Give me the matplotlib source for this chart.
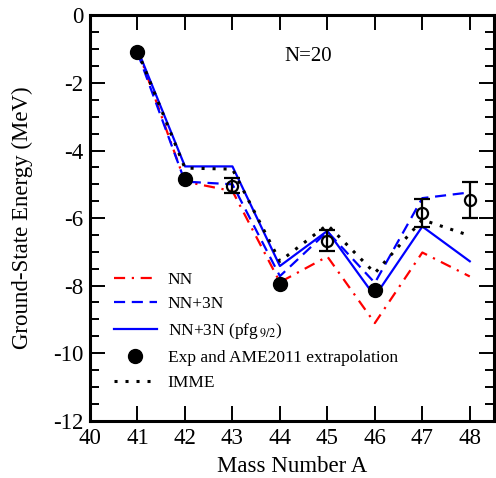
import matplotlib
matplotlib.use("Agg")
import matplotlib.pyplot as plt

plt.rcParams['font.family'] = ['Liberation Serif', 'DejaVu Serif']
plt.rcParams['mathtext.fontset'] = 'stix'
plt.rcParams['axes.unicode_minus'] = False

# mass numbers
A = [41, 42, 43, 44, 45, 46, 47, 48]

# calculations
nn = [-1.0, -4.92, -5.2, -7.9, -7.14, -9.11, -7.02, -7.73]
nn3n = [-1.1, -4.92, -5.0, -7.72, -6.4, -7.92, -5.41, -5.24]
nn3n_pfg = [-1.0, -4.47, -4.47, -7.42, -6.38, -8.32, -6.25, -7.28]
imme = [-1.05, -4.52, -4.55, -7.28, -6.2, -7.63, -6.05, -6.52]

# experiment (filled) and AME2011 extrapolation (open, with errors)
A_exp = [41, 42, 44, 46]
E_exp = [-1.08, -4.84, -7.95, -8.12]
A_ame = [43, 45, 47, 48]
E_ame = [-5.04, -6.67, -5.84, -5.47]
err_ame = [0.23, 0.31, 0.41, 0.53]

fig = plt.figure(figsize=(4.96, 4.78), dpi=100)
ax = fig.add_axes([0.1815, 0.12, 0.8135, 0.8476])

ax.plot(A, nn, color='red', lw=1.6, linestyle=(0, (5, 3, 1, 3)), label='NN')
ax.plot(A, nn3n, color='blue', lw=1.6, linestyle=(0, (5, 3)), label='NN+3N')
ax.plot(A, nn3n_pfg, color='blue', lw=1.6, label=r'NN+3N (pfg$_{\,9/2}$)')
ax.plot(A_exp, E_exp, 'o', color='black', ms=10, label='Exp and AME2011 extrapolation', zorder=5)
ax.plot(A, imme, color='black', lw=2.2, linestyle=(0, (1, 2.6)), label='IMME')
ax.errorbar(A_ame, E_ame, yerr=err_ame, fmt='o', mfc='none', mec='black', mew=1.6,
            ms=8, ecolor='black', elinewidth=1.6, capsize=6, capthick=1.6, zorder=5)

ax.set_xlim(40, 48.5)
ax.set_ylim(-12, 0)
ax.set_xticks(range(40, 49))
ax.set_yticks(range(-12, 1, 2))
ax.set_yticks([y * 0.5 for y in range(-24, 1)], minor=True)
ax.tick_params(which='both', direction='in', top=True, right=True, labelsize=16.5, width=1.4)
ax.tick_params(which='major', length=11, pad=5)
ax.tick_params(which='minor', length=6.5)
for s in ax.spines.values():
    s.set_linewidth(2.2)

ax.set_xlabel('Mass Number A', fontsize=16.5, labelpad=5)
ax.set_ylabel('Ground-State Energy (MeV)', fontsize=16.5, labelpad=14)
ax.text(0.54, 0.898, 'N=20', transform=ax.transAxes, fontsize=15, ha='center', va='center')

ax.legend(loc='lower left', bbox_to_anchor=(0.02, 0.035), frameon=False, fontsize=12.5,
          handlelength=2.5, handletextpad=0.6, labelspacing=0.5, numpoints=1)

fig.savefig('out.png', dpi=100)
